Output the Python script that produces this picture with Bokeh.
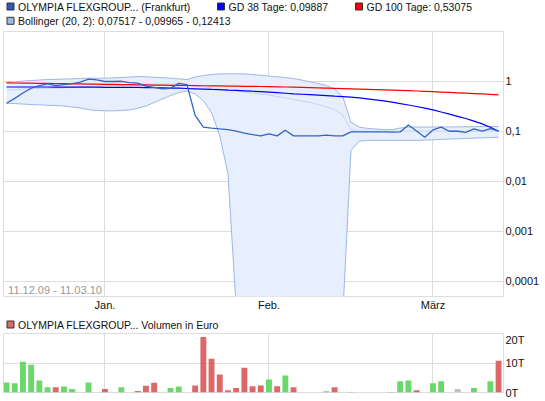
from bokeh.plotting import figure
from bokeh.layouts import column
from bokeh.models import Range1d, FixedTicker, Label, ColumnDataSource
from bokeh.core.properties import value
from bokeh.embed import file_html
from bokeh.resources import INLINE
from bokeh.transform import factor_cmap

# ---------------- data ----------------
month_ticks = [12, 32, 52]
month_labels = ["Jan.", "Feb.", "März"]
date_range_text = "11.12.09 - 11.03.10"

price = [0.36, 0.45, 0.575, 0.72, 0.81, 0.88, 0.81, 0.85, 0.89, 0.95,
         1.09, 1.06, 0.98, 0.98, 0.99, 0.93, 0.91, 0.79, 0.75, 0.70,
         0.715, 0.90, 0.85, 0.205, 0.12, 0.114, 0.11, 0.107, 0.10, 0.091,
         0.085, 0.08, 0.088, 0.08, 0.104, 0.08, 0.08, 0.08, 0.08, 0.083,
         0.08, 0.08, 0.096, 0.096, 0.096, 0.096, 0.096, 0.095, 0.096, 0.132,
         0.10, 0.075, 0.105, 0.12, 0.099, 0.099, 0.094, 0.11, 0.10, 0.112,
         0.10]

gd38 = [0.76, 0.76, 0.76, 0.76, 0.76, 0.76, 0.755, 0.755, 0.755, 0.755,
        0.755, 0.755, 0.75, 0.75, 0.75, 0.75, 0.745, 0.74, 0.735, 0.73,
        0.725, 0.72, 0.71, 0.70, 0.69, 0.68, 0.672, 0.66, 0.65, 0.638,
        0.626, 0.615, 0.60, 0.585, 0.57, 0.556, 0.545, 0.534, 0.523, 0.512,
        0.50, 0.49, 0.475, 0.46, 0.44, 0.42, 0.40, 0.378, 0.355, 0.332,
        0.31, 0.287, 0.265, 0.24, 0.218, 0.197, 0.178, 0.158, 0.139, 0.119,
        0.0989]

gd100 = [0.92, 0.915, 0.91, 0.905, 0.90, 0.895, 0.89, 0.885, 0.88, 0.875,
         0.87, 0.865, 0.86, 0.855, 0.85, 0.845, 0.84, 0.835, 0.83, 0.826,
         0.822, 0.818, 0.814, 0.81, 0.806, 0.802, 0.798, 0.794, 0.79, 0.786,
         0.782, 0.778, 0.772, 0.766, 0.76, 0.753, 0.746, 0.739, 0.732, 0.724,
         0.716, 0.708, 0.70, 0.692, 0.684, 0.676, 0.668, 0.66, 0.651, 0.642,
         0.632, 0.622, 0.612, 0.602, 0.592, 0.582, 0.572, 0.562, 0.552, 0.542,
         0.531]

boll_upper = [0.946, 0.964, 1.0, 1.023, 1.047, 1.072, 1.081, 1.096, 1.107, 1.122,
              1.138, 1.138, 1.138, 1.159, 1.175, 1.202, 1.23, 1.219, 1.191, 1.164,
              1.138, 1.107, 1.072, 1.202, 1.288, 1.349, 1.393, 1.40, 1.40, 1.393,
              1.349, 1.306, 1.259, 1.219, 1.175, 1.122, 1.047, 0.968, 0.891, 0.813,
              0.692, 0.49, 0.15, 0.12, 0.113, 0.11, 0.107, 0.106, 0.115, 0.12,
              0.12, 0.12, 0.12, 0.121, 0.121, 0.121, 0.122, 0.122, 0.123, 0.123,
              0.124]

boll_mid = [0.66, 0.67, 0.69, 0.70, 0.71, 0.72, 0.72, 0.73, 0.75, 0.76,
            0.78, 0.79, 0.81, 0.82, 0.83, 0.85, 0.87, 0.87, 0.87, 0.87,
            0.87, 0.87, 0.85, 0.81, 0.76, 0.72, 0.69, 0.66, 0.63, 0.60,
            0.575, 0.55, 0.525, 0.49, 0.46, 0.43, 0.40, 0.375, 0.34, 0.305,
            0.27, 0.21, 0.105, 0.0995, 0.0995, 0.0995, 0.0995, 0.0995, 0.0995, 0.0995,
            0.0995, 0.0995, 0.0995, 0.0995, 0.0995, 0.0995, 0.0995, 0.0995, 0.0995, 0.0995,
            0.09965]

boll_lower = [0.36, 0.355, 0.347, 0.339, 0.334, 0.328, 0.324, 0.316, 0.302, 0.288,
              0.269, 0.257, 0.254, 0.254, 0.257, 0.265, 0.286, 0.316, 0.372, 0.437,
              0.513, 0.589, 0.631, 0.55, 0.407, 0.235, 0.081, 0.0141, 3e-5, 1e-6,
              1e-6, 1e-6, 1e-6, 1e-6, 1e-6, 1e-6, 1e-6, 1e-6, 1e-6, 1e-6,
              1e-6, 2e-5, 0.041, 0.063, 0.065, 0.065, 0.065, 0.065, 0.065, 0.065,
              0.065, 0.066, 0.067, 0.068, 0.069, 0.07, 0.071, 0.072, 0.073, 0.074,
              0.0752]

volume_t = [3.4, 3.1, 10.4, 9.4, 4.1, 1.8, 1.8, 2.0, 1.2, 0,
            3.4, 0, 1.2, 0, 1.8, 0, 0.5, 2.3, 3.3, 0,
            1.5, 2.0, 0, 2.4, 18.8, 11.4, 6.1, 0.8, 1.5, 8.4,
            2.1, 2.4, 4.4, 2.1, 5.8, 1.8, 0, 0, 0, 0.4,
            1.8, 0, 0.2, 0, 0, 0, 0, 0.2, 3.8, 4.1,
            0.8, 0, 3.1, 3.8, 0, 1.2, 0, 1.5, 0, 3.8,
            10.8]
vol_dir = ["up", "up", "up", "up", "up", "up", "down", "up", "up", "flat",
           "up", "flat", "down", "flat", "up", "flat", "down", "down", "down", "flat",
           "up", "up", "flat", "down", "down", "down", "down", "down", "down", "down",
           "down", "down", "up", "down", "up", "down", "flat", "flat", "flat", "up",
           "down", "flat", "up", "flat", "flat", "flat", "flat", "down", "up", "up",
           "down", "flat", "up", "up", "flat", "flat", "flat", "up", "flat", "up",
           "down"]

log_ticks = [0.0001, 0.001, 0.01, 0.1, 1]
log_labels = ["0,0001", "0,001", "0,01", "0,1", "1"]
vol_ticks = [0, 10, 20]
vol_labels = ["0T", "10T", "20T"]

legend_main = ["OLYMPIA FLEXGROUP... (Frankfurt)", "GD 38 Tage: 0,09887",
               "GD 100 Tage: 0,53075", "Bollinger (20, 2): 0,07517 - 0,09965 - 0,12413"]
legend_main_colors = ["#2a5bbf", "#0000ff", "#ff0000", "#9db6e6"]
legend_vol = ["OLYMPIA FLEXGROUP... Volumen in Euro"]
legend_vol_colors = ["#dc6868"]

# ---------------- styling / layout (page pixels) ----------------
W = 545
FONT = "Liberation Sans"
FS = "11px"
LFS = "10.5px"
GRID = "#dddddd"
FRAME_L, FRAME_R = 3, 503
LEG1_H, MAIN_H = 31, 265
LEG2_H, VOL_H = 20, 59
idx = list(range(len(price)))


def legend_fig(h, texts, colors, sq_x, cy):
    f = figure(frame_width=W, frame_height=h, x_range=Range1d(0, W), y_range=Range1d(h, 0),
               output_backend="svg", toolbar_location=None,
               min_border_left=0, min_border_right=0, min_border_top=0, min_border_bottom=0,
               x_axis_location=None, y_axis_location=None)
    f.outline_line_color = None
    f.grid.visible = False
    f.background_fill_color = None
    f.border_fill_color = None
    f.quad(left=sq_x, right=[x + 7 for x in sq_x],
           top=[y - 3.5 for y in cy], bottom=[y + 3.5 for y in cy],
           fill_color=colors, line_color="#333333", line_width=1)
    f.text(x=[x + 11 for x in sq_x], y=cy, text=texts, text_font=value(FONT),
           text_font_size=LFS, text_baseline="middle", text_align="left",
           text_color="#111111")
    return f


def style_axis(ax, standoff):
    ax.axis_line_color = None
    ax.major_tick_line_color = None
    ax.minor_tick_line_color = None
    ax.major_tick_out = 0
    ax.major_tick_in = 0
    ax.minor_tick_out = 0
    ax.minor_tick_in = 0
    ax.major_label_text_font = FONT
    ax.major_label_text_font_size = FS
    ax.major_label_text_color = "#111111"
    ax.major_label_standoff = standoff


leg1 = legend_fig(LEG1_H, legend_main, legend_main_colors,
                  [3.5, 214, 352, 3.5], [6, 6, 6, 20.3])

# main price chart
p = figure(frame_width=FRAME_R - FRAME_L, frame_height=MAIN_H,
           x_range=Range1d(-0.37, 60.6), y_range=Range1d(4.9e-5, 9.8),
           y_axis_type="log", y_axis_location="right",
           output_backend="svg", toolbar_location=None,
           min_border_left=FRAME_L, min_border_right=42,
           min_border_top=0, min_border_bottom=16)
p.outline_line_color = GRID
p.xgrid.ticker = FixedTicker(ticks=month_ticks)
p.ygrid.ticker = FixedTicker(ticks=log_ticks)
p.grid.grid_line_color = GRID
p.xaxis.ticker = FixedTicker(ticks=month_ticks)
p.xaxis.major_label_overrides = dict(zip(month_ticks, month_labels))
p.yaxis.ticker = FixedTicker(ticks=log_ticks)
p.yaxis.major_label_overrides = dict(zip(log_ticks, log_labels))
style_axis(p.xaxis[0], 2)
style_axis(p.yaxis[0], 2)

src = ColumnDataSource(dict(x=idx, price=price, gd38=gd38, gd100=gd100,
                            up=boll_upper, mid=boll_mid, lo=boll_lower))
p.varea(x="x", y1="lo", y2="up", source=src, fill_color="#e8effc")
p.line("x", "up", source=src, line_color="#9db6e6", line_width=1)
p.line("x", "lo", source=src, line_color="#9db6e6", line_width=1)
p.line("x", "mid", source=src, line_color="#c3d4f3", line_width=1)
p.line("x", "gd100", source=src, line_color="#ff0000", line_width=1.2)
p.line("x", "gd38", source=src, line_color="#0000ff", line_width=1.2)
p.line("x", "price", source=src, line_color="#3363c4", line_width=1.3)
p.add_layout(Label(x=4.6, y=7, x_units="screen", y_units="screen", text=date_range_text,
                   text_font=FONT, text_font_size=FS, text_color="#999999",
                   text_baseline="middle"))

leg2 = legend_fig(LEG2_H, legend_vol, legend_vol_colors, [3.5], [11])

# volume chart
v = figure(frame_width=FRAME_R - FRAME_L, frame_height=VOL_H,
           x_range=p.x_range, y_range=Range1d(0, 20),
           y_axis_location="right", output_backend="svg", toolbar_location=None,
           min_border_left=FRAME_L, min_border_right=42,
           min_border_top=0, min_border_bottom=10)
v.outline_line_color = GRID
v.xaxis.visible = False
v.xgrid.ticker = FixedTicker(ticks=month_ticks)
v.ygrid.ticker = FixedTicker(ticks=vol_ticks)
v.grid.grid_line_color = GRID
v.yaxis.ticker = FixedTicker(ticks=vol_ticks)
v.yaxis.major_label_overrides = dict(zip(vol_ticks, vol_labels))
style_axis(v.yaxis[0], 2)
vsrc = ColumnDataSource(dict(x=idx, vol=volume_t, d=vol_dir))
v.vbar(x="x", top="vol", width=0.72, source=vsrc, line_color=None,
       fill_color=factor_cmap("d", palette=["#6ad86a", "#dc6868", "#c0c0c0"],
                              factors=["up", "down", "flat"]))

layout = column(leg1, p, leg2, v, spacing=0)
open("out.html", "w").write(file_html(layout, INLINE))
